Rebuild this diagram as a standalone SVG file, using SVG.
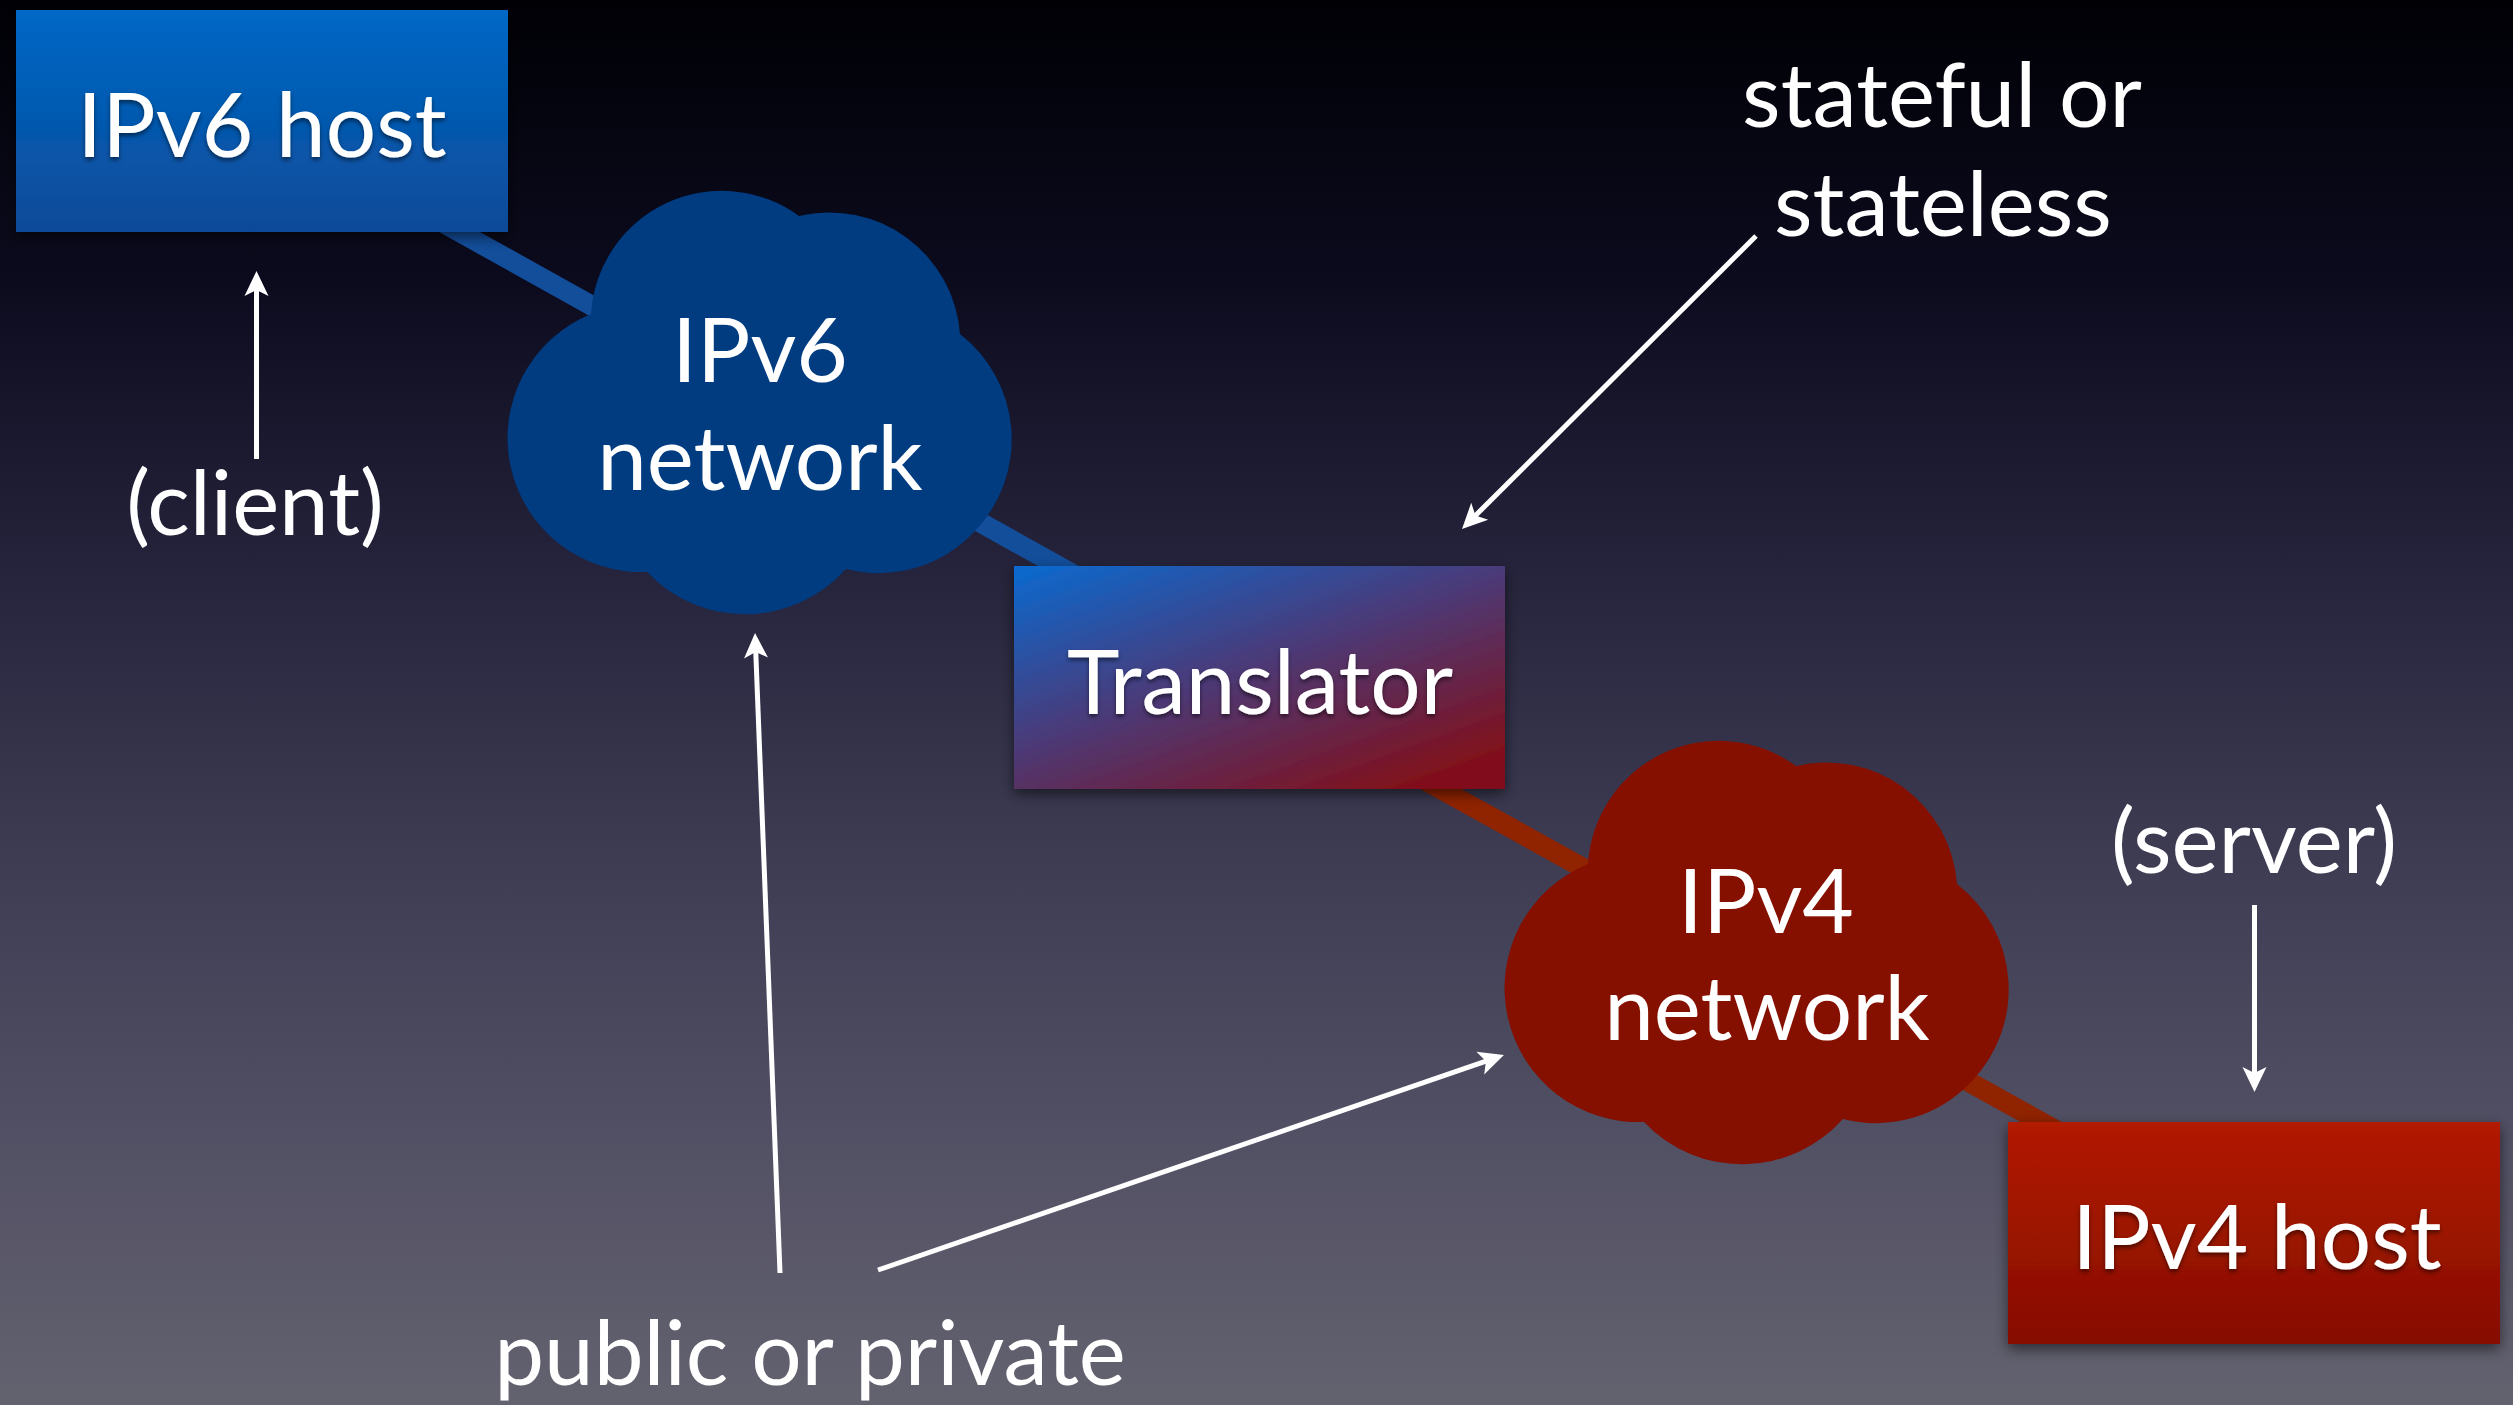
<svg xmlns="http://www.w3.org/2000/svg" width="2513" height="1405" viewBox="0 0 2513 1405">
<defs>
  <linearGradient id="bg" x1="0" y1="0" x2="0" y2="1">
    <stop offset="0" stop-color="#000005"/>
    <stop offset="0.2" stop-color="#0c0b1e"/>
    <stop offset="0.4" stop-color="#25233b"/>
    <stop offset="0.6" stop-color="#3c3b52"/>
    <stop offset="0.8" stop-color="#514f63"/>
    <stop offset="1" stop-color="#63626f"/>
  </linearGradient>
  <linearGradient id="g6host" x1="0" y1="0" x2="0" y2="1">
    <stop offset="0" stop-color="#0068c6"/>
    <stop offset="1" stop-color="#0b4a98"/>
  </linearGradient>
  <linearGradient id="g4host" x1="0" y1="0" x2="0" y2="1">
    <stop offset="0" stop-color="#b21a00"/>
    <stop offset="1" stop-color="#860d05"/>
  </linearGradient>
  <linearGradient id="gtrans" x1="0" y1="0" x2="0.8" y2="1">
    <stop offset="0" stop-color="#0a6ad0"/>
    <stop offset="0.5" stop-color="#4b3a78"/>
    <stop offset="1" stop-color="#81101a"/>
  </linearGradient>
  <filter id="shadow" x="-10%" y="-10%" width="120%" height="130%">
    <feDropShadow dx="0" dy="5" stdDeviation="7" flood-color="#000" flood-opacity="0.55"/>
  </filter>
  <filter id="ts" x="-5%" y="-20%" width="110%" height="150%">
    <feDropShadow dx="0" dy="3" stdDeviation="2" flood-color="#000" flood-opacity="0.5"/>
  </filter>
  <marker id="arr" viewBox="-26 -13 26 26" refX="-12" refY="0" markerWidth="26" markerHeight="26" markerUnits="userSpaceOnUse" orient="auto">
    <path d="M0,0 L-25,-12 L-19,0 L-25,12 Z" fill="#ffffff"/>
  </marker>
  <path id="cloud" d="M591 314 A131 131 0 0 1 799 216 A131 131 0 0 1 960 334 A133 133 0 0 1 975 531 A131 131 0 0 1 846 569 A135 135 0 0 1 647 572 A134 134 0 0 1 591 314 Z"/>
</defs>
<style>
  .t { font-family: Lato, "Liberation Sans", sans-serif; fill: #ffffff; text-anchor: middle; font-size: 89px; }
  .link { fill: none; stroke-width: 20; stroke-linecap: butt; }
  .ann { fill: none; stroke: #ffffff; stroke-width: 5; marker-end: url(#arr); }
</style>

<rect x="0" y="0" width="2513" height="1405" fill="url(#bg)"/>

<g id="connectors">
  <line class="link" x1="300" y1="143" x2="1200" y2="645" stroke="#134e9b"/>
  <line class="link" x1="1300" y1="711" x2="2200" y2="1210" stroke="#902300"/>
</g>

<g id="ipv6-host">
  <rect x="16" y="10" width="492" height="222" fill="url(#g6host)" filter="url(#shadow)"/>
  <text class="t" x="262" y="157" filter="url(#ts)">IPv6 host</text>
</g>

<g id="ipv6-network">
  <use href="#cloud" fill="#013b80"/>
  <text class="t" x="760" y="382">IPv6</text>
  <text class="t" x="760" y="490">network</text>
</g>

<g id="translator">
  <rect x="1014" y="566" width="491" height="223" fill="url(#gtrans)" filter="url(#shadow)"/>
  <text class="t" x="1260" y="714" filter="url(#ts)">Translator</text>
</g>

<g id="ipv4-network">
  <use href="#cloud" transform="translate(997 550)" fill="#851000"/>
  <text class="t" x="1766" y="933">IPv4</text>
  <text class="t" x="1767" y="1040">network</text>
</g>

<g id="ipv4-host">
  <rect x="2008" y="1122" width="492" height="222" fill="url(#g4host)" filter="url(#shadow)"/>
  <text class="t" x="2257" y="1269" filter="url(#ts)">IPv4 host</text>
</g>

<g id="annotations">
  <line class="ann" x1="256.5" y1="459" x2="256.5" y2="283"/>
  <line class="ann" x1="2254.5" y1="905" x2="2254.5" y2="1080"/>
  <line class="ann" x1="1756" y1="236" x2="1470.5" y2="520.5"/>
  <line class="ann" x1="780" y1="1273" x2="755.5" y2="645"/>
  <line class="ann" x1="878" y1="1270" x2="1492.6" y2="1058.9"/>
</g>

<g id="labels">
  <text class="t" x="255" y="535">(client)</text>
  <text class="t" x="2254" y="873">(server)</text>
  <text class="t" x="1942" y="127">stateful or</text>
  <text class="t" x="1943" y="236">stateless</text>
  <text class="t" x="810" y="1385">public or private</text>
</g>
</svg>
